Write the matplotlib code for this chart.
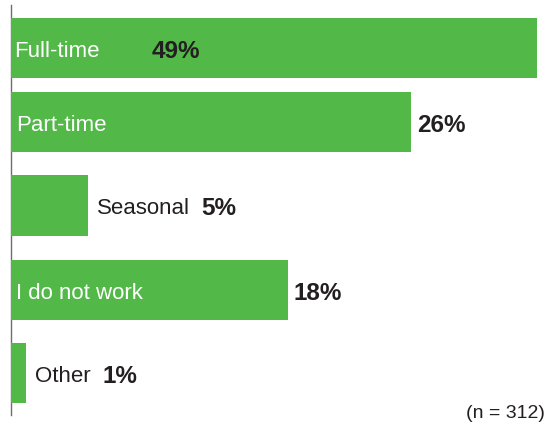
import matplotlib
matplotlib.use('Agg')
import matplotlib.pyplot as plt
import numpy as np

plt.rcParams['font.family'] = ['Liberation Sans', 'DejaVu Sans']

categories = ['Full-time', 'Part-time', 'Seasonal', 'I do not work', 'Other']
values = [49, 26, 5, 18, 1]
value_labels = ['49%', '26%', '5%', '18%', '1%']
# label inside the bar (white) or after the bar (dark)
inside = [True, True, False, True, False]
note = '(n = 312)'

green = '#52b848'
dark = '#231f20'

# row positions (slightly uneven in the original layout)
rows = [0, 0.904, 1.923, 2.955, 3.974]

fig = plt.figure(figsize=(5.47, 4.28), dpi=100)
ax = fig.add_axes([11 / 547, 13 / 428, 526 / 547, 410 / 428])

ax.barh(rows, values, height=0.733, color=green, zorder=2)
ax.set_xlim(0, 34.2)
ax.set_ylim(4.481, -0.525)

for sp in ['top', 'right', 'bottom']:
    ax.spines[sp].set_visible(False)
ax.spines['left'].set_color('#6d6e71')
ax.spines['left'].set_linewidth(1.0)
ax.spines['left'].set_zorder(1)
ax.set_xticks([])
ax.set_yticks([])

lab_size = 16
val_size = 17.5
dy = -3.5

for i, (cat, v, lab, ins) in enumerate(zip(categories, values, value_labels, inside)):
    yy = rows[i]
    if ins:
        ax.annotate(cat, (0, yy), xytext=(3 if i == 0 else 5, dy), textcoords='offset pixels',
                    ha='left', va='center', color='white', fontsize=lab_size, zorder=3)
        if v > ax.get_xlim()[1]:
            ax.annotate(lab, (0, yy), xytext=(141, dy), textcoords='offset pixels',
                        ha='left', va='center', color=dark, fontsize=val_size,
                        fontweight='bold', zorder=3)
        else:
            ax.annotate(lab, (v, yy), xytext=(6, dy), textcoords='offset pixels',
                        ha='left', va='center', color=dark, fontsize=val_size,
                        fontweight='bold', zorder=3)
    else:
        t = ax.annotate(cat, (v, yy), xytext=(9, dy), textcoords='offset pixels',
                        ha='left', va='center', color=dark, fontsize=lab_size, zorder=3)
        fig.canvas.draw()
        bb = t.get_window_extent()
        ax.annotate(lab, (v, yy), xytext=(9 + bb.width + 11, dy), textcoords='offset pixels',
                    ha='left', va='center', color=dark, fontsize=val_size,
                    fontweight='bold', zorder=3)

fig.text(545 / 547, 1 - 414 / 428, note, ha='right', va='center', color=dark, fontsize=14)

fig.savefig('out.png', dpi=100)
